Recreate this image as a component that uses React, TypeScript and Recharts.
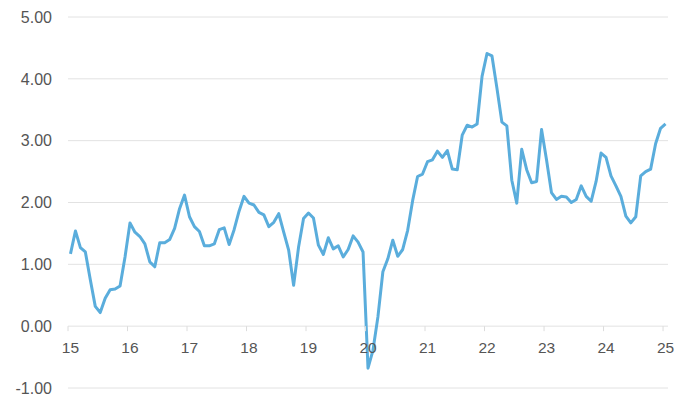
import React from "react";
import {
  LineChart,
  Line,
  XAxis,
  YAxis,
  CartesianGrid,
} from "recharts";

// year labels on the x axis, one per January
const yearLabels = ["15", "16", "17", "18", "19", "20", "21", "22", "23", "24", "25"];

// monthly values, Jan 2015 .. Jan 2025
const values2015 = [1.17, 1.54, 1.27, 1.2, 0.75, 0.32, 0.22, 0.45, 0.59, 0.6, 0.65, 1.12];
const values2016 = [1.67, 1.52, 1.45, 1.33, 1.04, 0.96, 1.35, 1.35, 1.4, 1.58, 1.9, 2.12];
const values2017 = [1.77, 1.61, 1.53, 1.3, 1.3, 1.33, 1.56, 1.59, 1.32, 1.56, 1.86, 2.1];
const values2018 = [1.99, 1.96, 1.84, 1.8, 1.61, 1.68, 1.82, 1.52, 1.23, 0.66, 1.28, 1.74];
const values2019 = [1.83, 1.75, 1.31, 1.16, 1.43, 1.25, 1.3, 1.12, 1.24, 1.46, 1.36, 1.2];
const values2020 = [-0.68, -0.39, 0.15, 0.88, 1.09, 1.39, 1.13, 1.24, 1.55, 2.03, 2.42, 2.46];
const values2021 = [2.66, 2.69, 2.83, 2.73, 2.84, 2.54, 2.53, 3.09, 3.25, 3.22, 3.27, 4.04];
const values2022 = [4.41, 4.37, 3.85, 3.3, 3.24, 2.36, 1.99, 2.86, 2.53, 2.32, 2.34, 3.18];
const values2023 = [2.69, 2.16, 2.05, 2.1, 2.09, 2.0, 2.05, 2.27, 2.1, 2.02, 2.34, 2.8];
const values2024 = [2.73, 2.43, 2.27, 2.1, 1.78, 1.67, 1.77, 2.43, 2.5, 2.54, 2.95, 3.2];
const values2025 = [3.27];

const yTicks = [-1, 0, 1, 2, 3, 4, 5];

const allValues = [
  ...values2015, ...values2016, ...values2017, ...values2018, ...values2019,
  ...values2020, ...values2021, ...values2022, ...values2023, ...values2024,
  ...values2025,
];

// each month is a band; points sit at band centres
const chartData = allValues.map((value, i) => ({ x: i + 0.5, value }));
const xTicks = yearLabels.map((_, i) => i * 12 + 0.5);

const W = 692;
const H = 404;
const M = { top: 17, right: 24, bottom: 0, left: 0 };
const Y_AXIS_W = 68;
const X_AXIS_H = 16;
const plotH = H - M.top - M.bottom - X_AXIS_H;
const plotW = W - M.left - M.right - Y_AXIS_W;
const yMin = -1;
const yMax = 5;
const zeroUp = (plotH * (0 - yMin)) / (yMax - yMin);
const halfBand = plotW / allValues.length / 2;

const YearTick = (props: any) => {
  const { x, y, payload, index } = props;
  const zy = y - zeroUp;
  return (
    <g>
      <line x1={x - halfBand} x2={x - halfBand} y1={zy} y2={zy + 5} stroke="#dcdcdc" />
      <text
        x={x}
        y={zy + 27}
        textAnchor="middle"
        fill="#555"
        fontSize={15.5}
        fontFamily="'Liberation Sans', Arial, sans-serif"
      >
        {yearLabels[index] ?? payload.value}
      </text>
    </g>
  );
};

export default function App() {
  return (
    <div style={{ position: "absolute", left: 0, top: 0, background: "#fff" }}>
      <LineChart width={W} height={H} data={chartData} margin={M}>
        <CartesianGrid vertical={false} stroke="#e2e2e2" />
        <XAxis
          dataKey="x"
          type="number"
          domain={[0, allValues.length]}
          ticks={xTicks}
          interval={0}
          height={X_AXIS_H}
          axisLine={false}
          tickLine={false}
          tickSize={0}
          tickMargin={0}
          tick={<YearTick />}
        />
        <YAxis
          domain={[yMin, yMax]}
          ticks={yTicks}
          width={Y_AXIS_W}
          axisLine={false}
          tickLine={false}
          tickSize={0}
          tickMargin={16}
          tickFormatter={(v: number) => v.toFixed(2)}
          tick={{ fill: "#555", fontSize: 16, fontFamily: "'Liberation Sans', Arial, sans-serif" }}
        />
        <Line
          type="linear"
          dataKey="value"
          stroke="#5aaddc"
          strokeWidth={3}
          strokeLinejoin="round"
          dot={false}
          isAnimationActive={false}
        />
      </LineChart>
    </div>
  );
}
